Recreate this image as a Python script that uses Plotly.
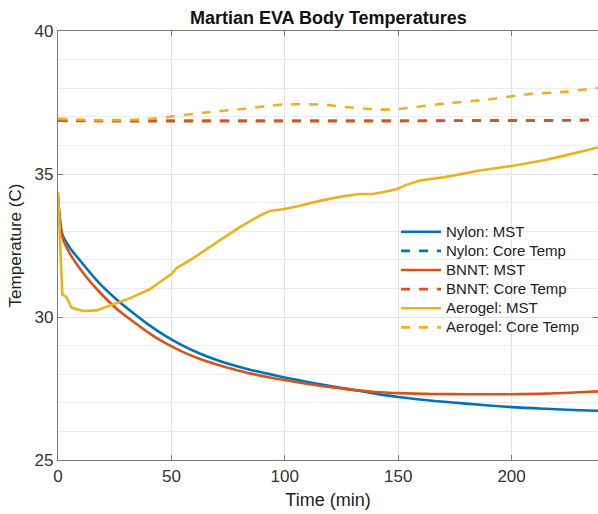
import plotly.graph_objects as go

# Nylon MST
nylon_t = [0, 1.9, 5, 11, 18, 25.7, 33, 40.5, 47, 55, 62, 70, 77, 85, 95, 101, 110, 120, 129, 140, 150, 165, 180, 200, 215, 230, 238.1]
nylon_mst = [34.2, 32.9, 32.45, 31.85, 31.2, 30.62, 30.15, 29.7, 29.36, 29.0, 28.74, 28.5, 28.32, 28.15, 27.97, 27.87, 27.73, 27.59, 27.47, 27.32, 27.2, 27.07, 26.97, 26.85, 26.79, 26.74, 26.72]
# BNNT MST
bnnt_t = [0, 1.9, 5, 11, 18, 25.7, 33, 40.5, 47, 55, 62, 70, 77, 85, 95, 101, 110, 120, 129, 140, 150, 165, 180, 200, 215, 230, 238.1]
bnnt_mst = [34.2, 32.8, 32.25, 31.55, 30.9, 30.3, 29.85, 29.42, 29.1, 28.78, 28.55, 28.34, 28.18, 28.02, 27.86, 27.78, 27.66, 27.55, 27.46, 27.38, 27.34, 27.31, 27.3, 27.3, 27.32, 27.37, 27.4]
# Aerogel MST
aero_t = [0, 1.9, 3.7, 5.9, 11, 17, 23.5, 31.6, 40.4, 44.8, 50, 52.2, 59.5, 67, 74, 80, 88.9, 93.3, 99.2, 106.6, 115.4, 124.2, 133, 138.9, 143, 149.2, 153.6, 159.5, 171.3, 186, 200.6, 213.8, 224.2, 238.1]
aero_mst = [34.36, 30.79, 30.7, 30.33, 30.21, 30.23, 30.42, 30.65, 30.97, 31.2, 31.5, 31.7, 32.05, 32.45, 32.8, 33.13, 33.54, 33.71, 33.77, 33.89, 34.06, 34.2, 34.3, 34.3, 34.36, 34.47, 34.62, 34.77, 34.9, 35.12, 35.29, 35.47, 35.66, 35.93]
# Core temps
core_t = [0, 20, 40, 49, 64, 82, 99, 118, 124, 142, 151, 171, 189, 206, 224, 238.1]
nylon_core = [36.86, 36.86, 36.86, 36.86, 36.86, 36.86, 36.86, 36.86, 36.86, 36.86, 36.86, 36.86, 36.87, 36.87, 36.88, 36.89]
bnnt_core = [36.86, 36.85, 36.85, 36.85, 36.85, 36.85, 36.85, 36.85, 36.85, 36.85, 36.85, 36.86, 36.86, 36.87, 36.88, 36.89]
aero_core = [36.93, 36.88, 36.92, 37.0, 37.14, 37.28, 37.43, 37.42, 37.36, 37.25, 37.28, 37.47, 37.6, 37.78, 37.88, 38.01]

series_names = ["Nylon: MST", "Nylon: Core Temp", "BNNT: MST", "BNNT: Core Temp",
                "Aerogel: MST", "Aerogel: Core Temp"]

BLUE = "#0072BD"
ORANGE = "#D95319"
YELLOW = "#EDB120"
FONT = "Liberation Sans, Arial, sans-serif"


def lbl(s):
    return "<span style='font-size:15px'>" + s + "</span>"


fig = go.Figure()
lw = 2.6
fig.add_trace(go.Scatter(x=nylon_t, y=nylon_mst, mode="lines", name=lbl(series_names[0]),
                         line=dict(color=BLUE, width=lw, shape="spline", smoothing=0.8)))
fig.add_trace(go.Scatter(x=core_t, y=nylon_core, mode="lines", name=lbl(series_names[1]),
                         line=dict(color=BLUE, width=lw, dash="dash", shape="spline", smoothing=0.6)))
fig.add_trace(go.Scatter(x=bnnt_t, y=bnnt_mst, mode="lines", name=lbl(series_names[2]),
                         line=dict(color=ORANGE, width=lw, shape="spline", smoothing=0.8)))
fig.add_trace(go.Scatter(x=core_t, y=bnnt_core, mode="lines", name=lbl(series_names[3]),
                         line=dict(color=ORANGE, width=lw, dash="dash", shape="spline", smoothing=0.6)))
fig.add_trace(go.Scatter(x=aero_t, y=aero_mst, mode="lines", name=lbl(series_names[4]),
                         line=dict(color=YELLOW, width=lw)))
fig.add_trace(go.Scatter(x=core_t, y=aero_core, mode="lines", name=lbl(series_names[5]),
                         line=dict(color=YELLOW, width=lw, dash="dash", shape="spline", smoothing=0.6)))

axis_common = dict(
    showline=True, linecolor="#7a7a7a", linewidth=1.2, mirror="ticks",
    ticks="inside", ticklen=5, tickcolor="#7a7a7a",
    gridcolor="#e3e3e3", gridwidth=1, zeroline=False, automargin=False,
    tickfont=dict(family=FONT, size=17, color="#333333"),
)

fig.update_layout(
    width=598, height=514,
    margin=dict(l=58, r=0, t=31, b=54),
    paper_bgcolor="white", plot_bgcolor="white",
    title=dict(text="<b>Martian EVA Body Temperatures</b>", x=0.549, xanchor="center",
               y=0.965, yanchor="middle", font=dict(family=FONT, size=18, color="#111111")),
    xaxis=dict(range=[0, 238.1], tickvals=[0, 50, 100, 150, 200],
               title=dict(text="Time (min)", font=dict(family=FONT, size=18, color="#222222"), standoff=8),
               **axis_common),
    yaxis=dict(range=[25, 40], tickvals=[25, 30, 35, 40],
               minor=dict(dtick=1, showgrid=True, gridcolor="#ececec", gridwidth=1, ticks=""),
               title=dict(text="Temperature (C)", font=dict(family=FONT, size=17, color="#222222"), standoff=8),
               **axis_common),
    legend=dict(x=0.626, y=0.566, xanchor="left", yanchor="top",
                bgcolor="rgba(255,255,255,0)", borderwidth=0,
                font=dict(family=FONT, size=12.4, color="#222222"),
                tracegroupgap=0, itemwidth=40),
    showlegend=True,
)

fig.write_html(
    "out.html",
    config={"responsive": False, "displayModeBar": False},
    post_script="document.body.style.margin='0';document.body.style.overflow='hidden';",
)
